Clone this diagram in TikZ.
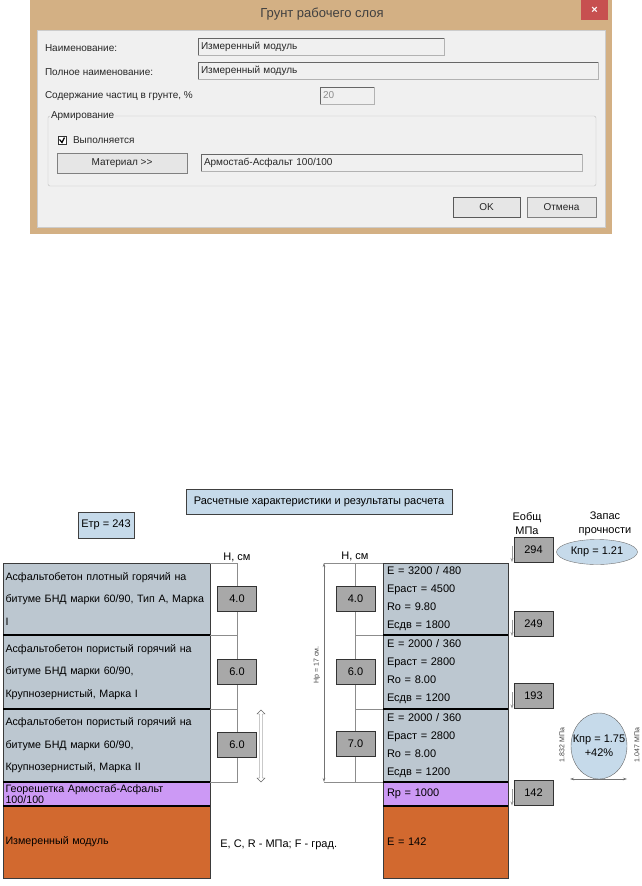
\documentclass[tikz,border=0pt]{standalone}
\usepackage{fontspec}
\setmainfont{Liberation Sans}
\usetikzlibrary{arrows.meta,positioning,calc,shapes.geometric,shapes.arrows}
\definecolor{cFrame}{HTML}{D3B084}
\definecolor{cPanel}{HTML}{F0F0F0}
\definecolor{cClose}{HTML}{C75050}
\definecolor{cBtn}{HTML}{E6E6E6}
\definecolor{cBlue}{HTML}{C6DAEA}
\definecolor{cAsph}{HTML}{BCC7D0}
\definecolor{cGrid}{HTML}{CC99F5}
\definecolor{cSoil}{HTML}{D2692F}
\definecolor{cThk} {HTML}{A8A8A8}
\definecolor{cLine}{HTML}{3B3B3B}
\tikzset{
  dlg/.style     ={font=\fontsize{10}{12}\selectfont,inner sep=0pt,anchor=west,text=black!85},
  fld/.style     ={draw=black!30,fill=cPanel,inner xsep=3pt,inner ysep=0pt,anchor=north west,
                   align=left,minimum height=17pt,font=\fontsize{10}{12}\selectfont,text=black!85},
  btn/.style     ={draw=black!50,fill=cBtn,inner sep=0pt,anchor=north west,minimum height=20pt,
                   font=\fontsize{10}{12}\selectfont,text=black!85},
  lay/.style     ={draw=cLine,anchor=north west,inner ysep=0pt,align=left},
  layL/.style    ={lay,text width=202pt,inner xsep=2.5pt,font=\fontsize{10.7}{22.5}\selectfont},
  layR/.style    ={lay,text width=117pt,inner xsep=4pt,font=\fontsize{11}{18}\selectfont},
  thk/.style     ={draw=black!80,fill=cThk,minimum width=39pt,minimum height=25pt,inner sep=0pt},
  infoBox/.style ={draw=black!75,fill=cBlue,inner sep=0pt},
  guide/.style   ={draw=black!45,line width=0.6pt},
  layerSep/.style={draw=black,line width=1.8pt},
  eArr/.style    ={-{Stealth[length=4pt,width=3pt]},draw=black!40,line width=0.6pt},
  dimArr/.style  ={{Stealth[length=4pt,width=2.5pt]}-{Stealth[length=4pt,width=2.5pt]},
                   draw=black!55,line width=0.5pt},
  rotLbl/.style  ={font=\fontsize{7}{8}\selectfont,text=black!75,inner sep=0pt,rotate=90},
}

\begin{document}
\begin{tikzpicture}[x=1pt,y=-1pt,font=\fontsize{11}{13}\selectfont,every node/.style={outer sep=0pt}]
\path[use as bounding box,fill=white] (0,0) rectangle (642,886);

% ---- dialog window ------------------------------------------------------
\node[fill=cFrame,minimum width=582pt,minimum height=234pt,anchor=north west,inner sep=0pt] (win) at (30,0) {};
\node[fill=cPanel,draw=black!20,minimum width=568pt,minimum height=197pt,anchor=north west,inner sep=0pt] (pnl) at (37,30) {};
\node[font=\fontsize{13}{15}\selectfont,text=black!75] (ttl) at (322,14) {Грунт рабочего слоя};
\node[fill=cClose,minimum width=27pt,minimum height=20pt,anchor=north west,inner sep=0pt,
      text=white,font=\bfseries\fontsize{11}{11}\selectfont] (cls) at (581,0) {×};

\foreach \n/\y/\t in {lb1/48/Наименование:,lb2/72/Полное наименование:,lb3/96/{Содержание частиц в грунте, \%}}
  \node[dlg] (\n) at (45,\y) {\t};

\node[fld,text width=240pt] (f1) at (198,38) {Измеренный модуль};
\node[fld,text width=394pt] (f2) at (198,62) {Измеренный модуль};
\node[fld,text width=48pt,text=black!45] (f3) at (320,87) {20};
\foreach \f in {f1,f2,f3} \draw[black!60,line width=0.8pt] (\f.south west) |- (\f.north east);

% group box
\node[draw=black!25,rounded corners=2pt,minimum width=548pt,minimum height=70pt,anchor=north west,inner sep=0pt] (grp) at (48,116) {};
\node[dlg,fill=cPanel,inner xsep=1pt] (grpL) at (50,116) {Армирование};
\node[draw=black!80,fill=white,minimum size=8pt,inner sep=0pt,anchor=north west] (chk) at (58,136) {};
\draw[line width=1.2pt] ([xshift=1.5pt,yshift=0.5pt]chk.west) -- ([yshift=1.5pt]chk.south) -- ([xshift=-1.5pt,yshift=-1.5pt]chk.north east);
\node[dlg,right=7pt of chk] (chkT) {Выполняется};
\node[btn,minimum width=130pt] (bMat) at (57,153) {Материал >{}>};
\node[fld,text width=375pt] (f4) at (201,154) {Армостаб-Асфальт 100/100};
\draw[black!60,line width=0.8pt] (f4.south west) |- (f4.north east);

\node[btn,draw=black!65,minimum width=67pt] (bOk) at (453,197) {OK};
\node[btn,minimum width=69pt] (bNo) at (527,197) {Отмена};

% ---- result header ------------------------------------------------------
\node[infoBox,minimum width=266pt,minimum height=25pt] (hdr) at (319,501.5) {Расчетные характеристики и результаты расчета};
\node[infoBox,minimum width=56pt,minimum height=26pt] (etr) at (106,525) {Етр = 243};
\node (hL) at (237,557) {Н, см};
\node (hR) at (355,556) {Н, см};
\node[align=center,font=\fontsize{11}{14}\selectfont] (hE) at (527,524) {Еобщ\\МПа};
\node[align=center,font=\fontsize{11}{14}\selectfont] (hK) at (605,524) {Запас\\прочности};

% ---- layers, left ---------------------------------------------------------
\node[layL,fill=cAsph,minimum height=72pt] (l1) at (3,563) {Асфальтобетон плотный горячий на\\битуме БНД марки 60/90, Тип А, Марка\\I};
\node[layL,fill=cAsph,minimum height=74pt] (l2) at (3,635) {Асфальтобетон пористый горячий на\\битуме БНД марки 60/90,\\Крупнозернистый, Марка I};
\node[layL,fill=cAsph,minimum height=73pt] (l3) at (3,709) {Асфальтобетон пористый горячий на\\битуме БНД марки 60/90,\\Крупнозернистый, Марка II};
\node[layL,fill=cGrid,minimum height=24pt,font=\fontsize{10.7}{11.5}\selectfont] (l4) at (3,782) {Георешетка Армостаб-Асфальт\\100/100};
\node[layL,fill=cSoil,minimum height=72pt] (l5) at (3,806) {Измеренный модуль};

% ---- layers, right --------------------------------------------------------
\node[layR,fill=cAsph,minimum height=72pt] (r1) at (383,563) {E = 3200 / 480\\Ераст = 4500\\Ro = 9.80\\Есдв = 1800};
\node[layR,fill=cAsph,minimum height=74pt] (r2) at (383,635) {E = 2000 / 360\\Ераст = 2800\\Ro = 8.00\\Есдв = 1200};
\node[layR,fill=cAsph,minimum height=73pt] (r3) at (383,709) {E = 2000 / 360\\Ераст = 2800\\Ro = 8.00\\Есдв = 1200};
\node[layR,fill=cGrid,minimum height=24pt] (r4) at (383,782) {Rp = 1000};
\node[layR,fill=cSoil,minimum height=72pt] (r5) at (383,806) {E = 142};

\foreach \a in {l1,l2,l3,l4,r1,r2,r3,r4}
  \draw[layerSep] (\a.south west) -- (\a.south east);

% ---- thickness guides -----------------------------------------------------
\coordinate (gL) at (237,563);
\coordinate (gR) at (355.5,563);
\draw[guide] (l1.north east) -- (l1.north east -| gL) -- (l3.south east -| gL) -- (l3.south east);
\draw[guide] (r1.north west -| gR) -- (r3.south west -| gR);
\foreach \a in {l1,l2} \draw[guide] (\a.south east) -- (\a.south east -| gL);
\foreach \a in {r1,r2} \draw[guide] (\a.south west) -- (\a.south west -| gR);

\coordinate (hpT) at (324,563);
\coordinate (hpB) at (324,782);
\draw[guide] (hpT) -- (r1.north west);
\draw[guide] (hpB) -- (r3.south west);
\draw[dimArr] (hpT) -- (hpB);
\node[rotLbl] (hpL) at (317,665) {Нр = 17 см.};

\foreach \n/\x/\y/\t in {tL1/237/598.5/4.0,tL2/237/671.5/6.0,tL3/237/744.5/6.0,
                         tR1/355.5/598.5/4.0,tR2/355.5/671.5/6.0,tR3/355.5/743.5/7.0}
  \node[thk] (\n) at (\x,\y) {\t};

\node[shape=double arrow,draw=black!60,fill=white,rotate=90,minimum height=72pt,minimum width=8pt,
      double arrow head extend=2pt,inner sep=1pt] (dA) at (261,746) {};

% ---- total modulus ----------------------------------------------------------
\foreach \n/\y/\t in {e1/549.5/294,e2/623.5/249,e3/696/193,e4/793/142}{
  \node[thk] (\n) at (533.5,\y) {\t};
  \draw[eArr] ([xshift=-2pt,yshift=4pt]\n.west) -- ([xshift=-2pt]\n.south west);
}

% ---- strength margin --------------------------------------------------------
\node[ellipse,draw=black!55,fill=cBlue,minimum width=81pt,minimum height=25pt,inner sep=0pt] (k1) at (597,552) {Кпр = 1.21};
\node[ellipse,draw=black!60,fill=cBlue,minimum width=56pt,minimum height=66pt,inner sep=0pt] (k2) at (599,746) {};
\node[align=center,font=\fontsize{11}{14}\selectfont,inner sep=0pt] (k2T) at (k2.center) {Кпр = 1.75\\+42\%};
\node[rotLbl] (kA) at (562,745) {1.832 МПа};
\node[rotLbl] (kB) at (637,745) {1.047 МПа};
\coordinate (kL) at (570,779);
\coordinate (kR) at (627,779);
\draw[dimArr] (kL) -- (kR);

\node[anchor=west] (units) at (217,845) {E, C, R - МПа; F - град.};
\end{tikzpicture}
\end{document}
